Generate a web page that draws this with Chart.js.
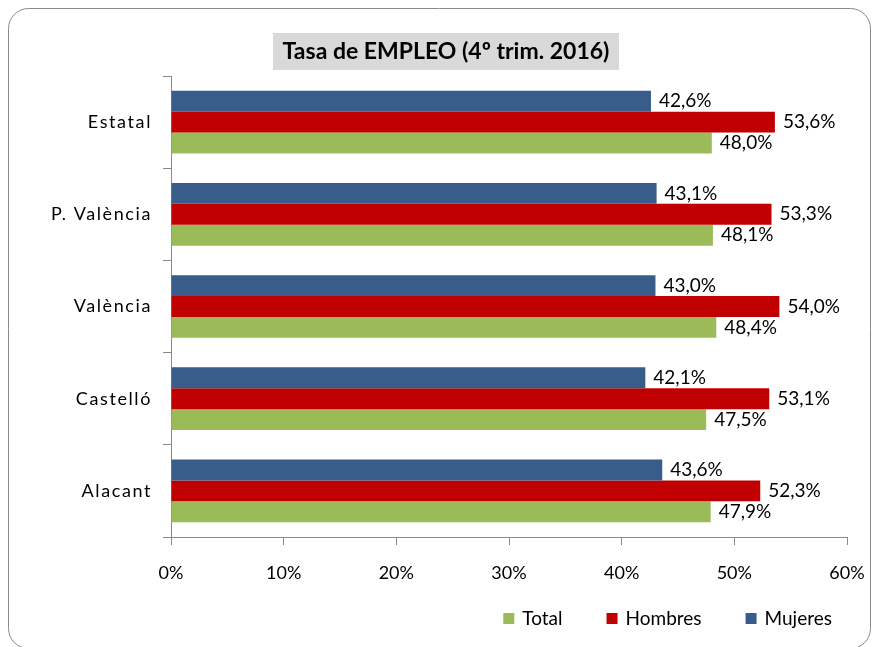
<!DOCTYPE html>
<html>
<head>
<meta charset="utf-8">
<script src="https://cdn.jsdelivr.net/npm/chart.js@4"></script>
<style>
  html, body { margin: 0; padding: 0; background: #fff; }
  #wrap { width: 876px; height: 647px; }
</style>
</head>
<body>
<div id="wrap"><canvas id="chart" width="876" height="647"></canvas></div>
<script>
const categories = ["Estatal", "P. València", "València", "Castelló", "Alacant"];
const mujeres = [42.6, 43.1, 43.0, 42.1, 43.6];
const hombres = [53.6, 53.3, 54.0, 53.1, 52.3];
const total = [48.0, 48.1, 48.4, 47.5, 47.9];
const xTicks = [0, 10, 20, 30, 40, 50, 60];
const chartTitle = "Tasa de EMPLEO (4º trim. 2016)";

Chart.defaults.font.family = "Lato, 'Open Sans', sans-serif";
Chart.defaults.color = "#000";

// rounded frame round the whole chart
const framePlugin = {
  id: "frame",
  beforeDraw(chart) {
    const ctx = chart.ctx;
    ctx.save();
    ctx.fillStyle = "#fff";
    ctx.fillRect(0, 0, chart.width, chart.height);
    ctx.strokeStyle = "#8a8a8a";
    ctx.lineWidth = 1;
    ctx.beginPath();
    ctx.roundRect(8.5, 8.5, 862, 640, 20);
    ctx.stroke();
    ctx.restore();
  }
};

// grey title box
const titlePlugin = {
  id: "titleBox",
  afterDraw(chart) {
    const ctx = chart.ctx;
    ctx.save();
    ctx.fillStyle = "#d9d9d9";
    ctx.fillRect(273, 33, 346, 37);
    ctx.font = "bold 23px Lato, sans-serif";
    ctx.fillStyle = "#000";
    ctx.textAlign = "center";
    ctx.textBaseline = "middle";
    ctx.fillText(chartTitle, 446, 52);
    ctx.restore();
  }
};

// value labels at the end of each bar
const valueLabels = {
  id: "valueLabels",
  afterDatasetsDraw(chart) {
    const ctx = chart.ctx;
    ctx.save();
    ctx.font = "19px Lato, sans-serif";
    ctx.fillStyle = "#000";
    ctx.textAlign = "left";
    ctx.textBaseline = "middle";
    chart.data.datasets.forEach((ds, i) => {
      chart.getDatasetMeta(i).data.forEach((bar, j) => {
        const txt = ds.data[j].toFixed(1).replace(".", ",") + "%";
        ctx.fillText(txt, bar.x + 8, bar.y);
      });
    });
    ctx.restore();
  }
};

// legend row at the bottom right (Total, Hombres, Mujeres)
const bottomLegend = {
  id: "bottomLegend",
  afterDraw(chart) {
    const ctx = chart.ctx;
    const items = chart.data.datasets.slice().reverse();
    const box = 11, gap = 8, space = 44, right = 832, cy = 619;
    ctx.save();
    ctx.font = "19px Lato, sans-serif";
    ctx.textBaseline = "middle";
    ctx.textAlign = "left";
    const widths = items.map(ds => box + gap + ctx.measureText(ds.label).width);
    let x = right - widths.reduce((a, b) => a + b, 0) - space * (items.length - 1);
    items.forEach((ds, i) => {
      ctx.fillStyle = ds.backgroundColor;
      ctx.fillRect(x, cy - 6, box, box);
      ctx.fillStyle = "#000";
      ctx.fillText(ds.label, x + box + gap, cy);
      x += widths[i] + space;
    });
    ctx.restore();
  }
};

// spaced-out category labels, like the original
const spacedLabels = {
  id: "spacedLabels",
  afterLayout(chart) {
    const y = chart.scales.y;
    if (y._spaced) return;
    const orig = y.drawLabels;
    y.drawLabels = function (area) {
      chart.ctx.save();
      chart.ctx.letterSpacing = "1.6px";
      orig.call(this, area);
      chart.ctx.restore();
    };
    y._spaced = true;
  }
};

new Chart(document.getElementById("chart"), {
  type: "bar",
  data: {
    labels: categories,
    datasets: [
      { label: "Mujeres", data: mujeres, backgroundColor: "#385d8a", borderWidth: 0 },
      { label: "Hombres", data: hombres, backgroundColor: "#c00000", borderWidth: 0 },
      { label: "Total", data: total, backgroundColor: "#9bbb59", borderWidth: 0 }
    ]
  },
  options: {
    indexAxis: "y",
    responsive: false,
    animation: false,
    categoryPercentage: 0.68,
    barPercentage: 1,
    layout: { padding: { left: 0, right: 0, top: 76, bottom: 62 } },
    scales: {
      x: {
        min: xTicks[0],
        max: xTicks[xTicks.length - 1],
        ticks: {
          stepSize: xTicks[1] - xTicks[0],
          callback: v => v + "%",
          font: { size: 18 },
          padding: 17,
          maxRotation: 0,
          autoSkip: false
        },
        grid: { drawOnChartArea: false, tickLength: 8, color: "#8a8a8a" },
        border: { color: "#8a8a8a" },
        afterFit: s => { s.height = 48; s.paddingRight = 29; }
      },
      y: {
        offset: true,
        ticks: { font: { size: 18 }, padding: 11 },
        grid: { offset: true, drawOnChartArea: false, tickLength: 8, color: "#8a8a8a" },
        border: { color: "#8a8a8a" },
        afterFit: s => { s.width = 171; }
      }
    },
    plugins: {
      title: { display: false },
      tooltip: { enabled: false },
      legend: { display: false }
    }
  },
  plugins: [framePlugin, titlePlugin, valueLabels, bottomLegend, spacedLabels]
});
</script>
</body>
</html>
